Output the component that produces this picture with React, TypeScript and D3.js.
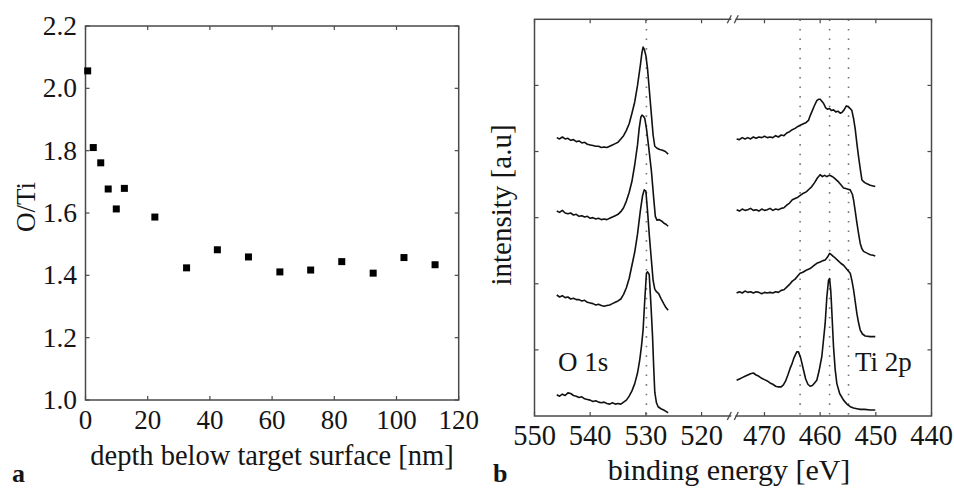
import React from "react";
import * as d3 from "d3";

// ---------- panel a data ----------
const depthNm = [0.7, 2.5, 4.9, 7.3, 9.9, 12.5, 22.3, 32.5, 42.4, 52.4, 62.5, 72.4, 82.4, 92.5, 102.4, 112.4];
const oTiRatio = [2.056, 1.81, 1.761, 1.677, 1.613, 1.679, 1.587, 1.424, 1.482, 1.459, 1.411, 1.417, 1.444, 1.407, 1.457, 1.434];
const depthTicks = [0, 20, 40, 60, 80, 100, 120];
const ratioTicks = [1.0, 1.2, 1.4, 1.6, 1.8, 2.0, 2.2];

// ---------- panel b data ----------
const energyTicks = [550, 540, 530, 520, 470, 460, 450, 440];
const intensityTicks = [1, 2, 3, 4, 5];
const o1sRefLines = [529.9];
const ti2pRefLines = [463.6, 458.3, 454.9];

const o1sCurve4: [number, number][] = [[546.0,4.21],[545.5,4.19],[545.0,4.22],[544.5,4.19],[544.0,4.20],[543.5,4.17],[543.0,4.18],[542.5,4.15],[542.0,4.16],[541.5,4.13],[541.0,4.14],[540.5,4.11],[540.0,4.10],[539.5,4.09],[539.0,4.08],[538.5,4.08],[538.0,4.06],[537.5,4.07],[537.0,4.06],[536.5,4.08],[536.0,4.10],[535.5,4.12],[535.0,4.14],[534.5,4.19],[534.0,4.24],[533.5,4.32],[533.0,4.42],[532.5,4.58],[532.0,4.75],[531.5,5.00],[531.0,5.30],[530.7,5.50],[530.5,5.58],[530.3,5.55],[530.0,5.45],[529.7,5.25],[529.4,4.95],[529.0,4.55],[528.7,4.25],[528.4,4.08],[528.0,4.05],[527.5,4.03],[527.0,4.02],[526.5,4.00],[526.0,3.96]];
const o1sCurve3: [number, number][] = [[546.0,3.10],[545.5,3.08],[545.0,3.11],[544.5,3.07],[544.0,3.06],[543.5,3.07],[543.0,3.04],[542.5,3.05],[542.0,3.02],[541.5,3.03],[541.0,3.01],[540.5,3.02],[540.0,2.99],[539.5,3.00],[539.0,2.98],[538.5,2.99],[538.0,2.97],[537.5,2.98],[537.0,2.97],[536.5,2.99],[536.0,3.01],[535.5,3.03],[535.0,3.05],[534.5,3.09],[534.0,3.15],[533.5,3.25],[533.0,3.38],[532.5,3.55],[532.0,3.80],[531.5,4.10],[531.2,4.35],[530.9,4.52],[530.7,4.55],[530.4,4.53],[530.2,4.50],[529.9,4.35],[529.5,4.07],[529.0,3.70],[528.6,3.30],[528.3,3.02],[528.0,2.96],[527.6,2.97],[527.2,2.95],[526.8,2.92],[526.4,2.90],[526.0,2.87]];
const o1sCurve2: [number, number][] = [[546.0,1.83],[545.5,1.80],[545.0,1.82],[544.5,1.79],[544.0,1.80],[543.5,1.77],[543.0,1.78],[542.5,1.76],[542.0,1.76],[541.5,1.74],[541.0,1.75],[540.5,1.72],[540.0,1.71],[539.5,1.70],[539.0,1.68],[538.5,1.69],[538.0,1.67],[537.5,1.66],[537.0,1.67],[536.5,1.68],[536.0,1.70],[535.5,1.72],[535.0,1.74],[534.5,1.77],[534.0,1.84],[533.5,1.94],[533.0,2.08],[532.5,2.28],[532.0,2.48],[531.5,2.75],[531.0,3.10],[530.6,3.33],[530.3,3.42],[530.0,3.40],[529.7,3.10],[529.4,2.75],[529.0,2.35],[528.7,2.05],[528.4,1.92],[528.1,1.88],[527.7,1.85],[527.3,1.78],[526.8,1.70],[526.4,1.64],[526.0,1.60]];
const o1sCurve1: [number, number][] = [[546.0,0.32],[545.5,0.30],[545.0,0.33],[544.5,0.31],[544.0,0.35],[543.5,0.34],[543.0,0.31],[542.5,0.30],[542.0,0.28],[541.5,0.29],[541.0,0.26],[540.5,0.25],[540.0,0.24],[539.5,0.22],[539.0,0.23],[538.5,0.21],[538.0,0.20],[537.5,0.21],[537.0,0.19],[536.5,0.18],[536.0,0.20],[535.5,0.18],[535.0,0.19],[534.5,0.18],[534.0,0.21],[533.5,0.24],[533.0,0.30],[532.5,0.38],[532.0,0.49],[531.5,0.65],[531.1,0.85],[530.8,1.05],[530.5,1.30],[530.2,1.75],[529.9,2.16],[529.7,2.18],[529.4,2.14],[529.1,1.70],[528.8,1.20],[528.6,0.75],[528.4,0.36],[528.1,0.20],[527.8,0.14],[527.3,0.11],[526.8,0.09],[526.4,0.07],[526.0,0.05]];

const ti2pCurve4: [number, number][] = [[475.0,4.19],[474.5,4.18],[474.0,4.21],[473.5,4.19],[473.0,4.21],[472.5,4.19],[472.0,4.22],[471.5,4.20],[471.0,4.22],[470.5,4.21],[470.0,4.23],[469.5,4.21],[469.0,4.22],[468.5,4.21],[468.0,4.24],[467.5,4.22],[467.0,4.25],[466.5,4.24],[466.0,4.28],[465.5,4.30],[465.0,4.33],[464.5,4.35],[464.0,4.38],[463.5,4.40],[463.0,4.42],[462.5,4.44],[462.1,4.47],[461.8,4.54],[461.5,4.60],[461.0,4.70],[460.6,4.77],[460.3,4.79],[460.0,4.79],[459.7,4.76],[459.4,4.73],[459.0,4.66],[458.7,4.64],[458.3,4.65],[458.0,4.62],[457.6,4.63],[457.2,4.60],[456.8,4.61],[456.4,4.58],[456.1,4.59],[455.7,4.63],[455.3,4.69],[455.0,4.68],[454.6,4.65],[454.3,4.62],[454.0,4.50],[453.7,4.34],[453.4,4.12],[453.1,3.92],[452.8,3.74],[452.5,3.57],[452.0,3.53],[451.5,3.51],[451.0,3.49],[450.5,3.48],[450.1,3.47]];
const ti2pCurve3: [number, number][] = [[475.0,3.12],[474.5,3.10],[474.0,3.13],[473.5,3.11],[473.0,3.12],[472.5,3.14],[472.0,3.11],[471.5,3.12],[471.0,3.10],[470.5,3.13],[470.0,3.11],[469.5,3.12],[469.0,3.14],[468.5,3.11],[468.0,3.13],[467.5,3.12],[467.0,3.14],[466.5,3.15],[466.0,3.19],[465.5,3.22],[465.0,3.27],[464.5,3.29],[464.0,3.31],[463.5,3.34],[463.0,3.37],[462.5,3.39],[462.0,3.43],[461.5,3.47],[461.0,3.53],[460.5,3.60],[460.0,3.65],[459.6,3.62],[459.2,3.64],[458.8,3.62],[458.4,3.64],[458.0,3.63],[457.6,3.61],[457.2,3.58],[456.7,3.54],[456.2,3.49],[455.8,3.45],[455.4,3.44],[455.0,3.43],[454.6,3.42],[454.2,3.35],[454.0,3.27],[453.7,3.10],[453.4,2.92],[453.1,2.76],[452.8,2.61],[452.5,2.53],[452.2,2.49],[451.5,2.46],[451.0,2.44],[450.5,2.43],[450.1,2.42]];
const ti2pCurve2: [number, number][] = [[475.0,1.86],[474.5,1.88],[474.0,1.86],[473.5,1.89],[473.0,1.87],[472.5,1.88],[472.0,1.86],[471.5,1.88],[471.0,1.87],[470.5,1.85],[470.0,1.87],[469.5,1.86],[469.0,1.87],[468.5,1.86],[468.0,1.88],[467.5,1.87],[467.0,1.90],[466.5,1.91],[466.0,1.95],[465.5,1.99],[465.0,2.04],[464.5,2.07],[464.0,2.12],[463.6,2.16],[463.2,2.17],[462.8,2.19],[462.4,2.21],[461.8,2.23],[461.2,2.27],[460.6,2.31],[460.0,2.33],[459.5,2.35],[459.1,2.36],[458.7,2.40],[458.3,2.46],[458.0,2.44],[457.6,2.41],[457.3,2.39],[456.8,2.35],[456.3,2.31],[455.8,2.28],[455.2,2.22],[454.6,2.16],[454.3,2.05],[454.0,1.91],[453.7,1.73],[453.4,1.55],[453.1,1.41],[452.8,1.30],[452.4,1.24],[451.9,1.21],[451.0,1.20],[450.1,1.20]];
const ti2pCurve1: [number, number][] = [[475.0,0.54],[474.5,0.56],[474.0,0.58],[473.5,0.60],[473.0,0.62],[472.5,0.64],[472.0,0.65],[471.5,0.62],[471.0,0.60],[470.5,0.57],[470.0,0.55],[469.5,0.53],[469.0,0.50],[468.5,0.48],[468.0,0.45],[467.5,0.44],[467.0,0.44],[466.6,0.47],[466.2,0.53],[465.8,0.62],[465.4,0.72],[465.1,0.78],[464.7,0.88],[464.2,0.97],[463.9,0.97],[463.5,0.88],[463.0,0.70],[462.6,0.56],[462.2,0.48],[461.8,0.45],[461.4,0.46],[461.0,0.50],[460.6,0.54],[460.2,0.68],[459.7,0.90],[459.4,1.15],[459.1,1.40],[458.8,1.80],[458.5,2.05],[458.3,2.08],[458.1,1.90],[458.0,1.75],[457.8,1.40],[457.6,1.05],[457.3,0.70],[457.0,0.49],[456.5,0.34],[455.8,0.24],[455.2,0.18],[454.6,0.14],[454.0,0.12],[453.4,0.11],[452.8,0.10],[452.0,0.10],[451.0,0.09],[450.1,0.09]];

const spectra = [o1sCurve1, o1sCurve2, o1sCurve3, o1sCurve4, ti2pCurve1, ti2pCurve2, ti2pCurve3, ti2pCurve4];

const FONT = "'Liberation Serif', 'Times New Roman', serif";
const FRAME = "#4a4a4a";
const INK = "#151515";

export default function App() {
  // panel a
  const ax = d3.scaleLinear().domain([0, 120]).range([85.5, 458.7]);
  const ay = d3.scaleLinear().domain([1.0, 2.2]).range([400, 26]);
  // panel b (broken axis)
  const bx = d3.scaleLinear().domain([550, 514.3, 475.6, 440]).range([534.5, 733.3, 733.3, 931.5]);
  const by = d3.scaleLinear().domain([0, 6]).range([416, 19.3]);
  const line = d3.line<[number, number]>().x((d) => bx(d[0])).y((d) => by(d[1]));
  const tl = 4;
  const breakX = bx(514.3);

  const breakMark = (y: number) => (
    <g>
      <polygon points={`${breakX - 3},${y + 4} ${breakX + 1},${y + 4} ${breakX + 3},${y - 4} ${breakX - 1},${y - 4}`} fill="#fff" />
      <line x1={breakX - 6} y1={y + 4} x2={breakX - 2} y2={y - 4} stroke={FRAME} strokeWidth={1.3} />
      <line x1={breakX + 1} y1={y + 4} x2={breakX + 5} y2={y - 4} stroke={FRAME} strokeWidth={1.3} />
    </g>
  );

  return (
    <svg width={954} height={490} style={{ position: "absolute", left: 0, top: 0, background: "#fff" }} fontFamily={FONT}>
      {/* ===== panel a ===== */}
      <rect x={ax(0)} y={ay(2.2)} width={ax(120) - ax(0)} height={ay(1.0) - ay(2.2)} fill="none" stroke={FRAME} strokeWidth={1.5} />
      {depthTicks.map((t) => (
        <g key={"dx" + t}>
          <line x1={ax(t)} x2={ax(t)} y1={ay(1.0)} y2={ay(1.0) - tl} stroke={FRAME} strokeWidth={1.2} />
          <line x1={ax(t)} x2={ax(t)} y1={ay(2.2)} y2={ay(2.2) + tl} stroke={FRAME} strokeWidth={1.2} />
          <text x={ax(t)} y={429} textAnchor="middle" fontSize={27} fill={INK}>{t}</text>
        </g>
      ))}
      {ratioTicks.map((t) => (
        <g key={"ry" + t}>
          <line x1={ax(0)} x2={ax(0) + tl} y1={ay(t)} y2={ay(t)} stroke={FRAME} strokeWidth={1.2} />
          <line x1={ax(120)} x2={ax(120) - tl} y1={ay(t)} y2={ay(t)} stroke={FRAME} strokeWidth={1.2} />
          <text x={77} y={ay(t)} dy="0.33em" textAnchor="end" fontSize={27.5} fill={INK}>{t.toFixed(1)}</text>
        </g>
      ))}
      {depthNm.map((d, i) => (
        <rect key={"pt" + i} x={ax(d) - 3.5} y={ay(oTiRatio[i]) - 3.5} width={7} height={7} fill="#000" />
      ))}
      <text x={272} y={465} textAnchor="middle" fontSize={28.5} fill={INK}>depth below target surface [nm]</text>
      <text transform="translate(35,207) rotate(-90)" textAnchor="middle" fontSize={27} fill={INK}>O/Ti</text>
      <text x={12} y={482} fontSize={26} fontWeight="bold" fill={INK}>a</text>

      {/* ===== panel b ===== */}
      {[...o1sRefLines, ...ti2pRefLines].map((e, i) => (
        <line key={"ref" + i} x1={bx(e)} x2={bx(e)} y1={by(6)} y2={by(0)} stroke="#777" strokeWidth={1.6} strokeDasharray="1.6 8" />
      ))}
      {spectra.map((s, i) => (
        <path key={"sp" + i} d={line(s) || ""} fill="none" stroke="#111" strokeWidth={1.6} strokeLinejoin="round" />
      ))}
      <rect x={bx(550)} y={by(6)} width={bx(440) - bx(550)} height={by(0) - by(6)} fill="none" stroke={FRAME} strokeWidth={1.5} />
      {energyTicks.map((t) => (
        <g key={"ex" + t}>
          <line x1={bx(t)} x2={bx(t)} y1={by(0)} y2={by(0) - tl} stroke={FRAME} strokeWidth={1.2} />
          <line x1={bx(t)} x2={bx(t)} y1={by(6)} y2={by(6) + tl} stroke={FRAME} strokeWidth={1.2} />
          <text x={bx(t)} y={445} textAnchor="middle" fontSize={28.5} fill={INK}>{t}</text>
        </g>
      ))}
      {intensityTicks.map((t) => (
        <g key={"iy" + t}>
          <line x1={bx(550)} x2={bx(550) + tl} y1={by(t)} y2={by(t)} stroke={FRAME} strokeWidth={1.2} />
          <line x1={bx(440)} x2={bx(440) - tl} y1={by(t)} y2={by(t)} stroke={FRAME} strokeWidth={1.2} />
        </g>
      ))}
      {breakMark(by(0))}
      {breakMark(by(6))}
      <text x={558} y={371} fontSize={27} fill={INK}>O 1s</text>
      <text x={855} y={371} fontSize={27} fill={INK}>Ti 2p</text>
      <text x={729} y={480} textAnchor="middle" fontSize={30} fill={INK}>binding energy [eV]</text>
      <text transform="translate(511,205) rotate(-90)" textAnchor="middle" fontSize={29} fill={INK}>intensity [a.u]</text>
      <text x={493} y={482} fontSize={26} fontWeight="bold" fill={INK}>b</text>
    </svg>
  );
}
